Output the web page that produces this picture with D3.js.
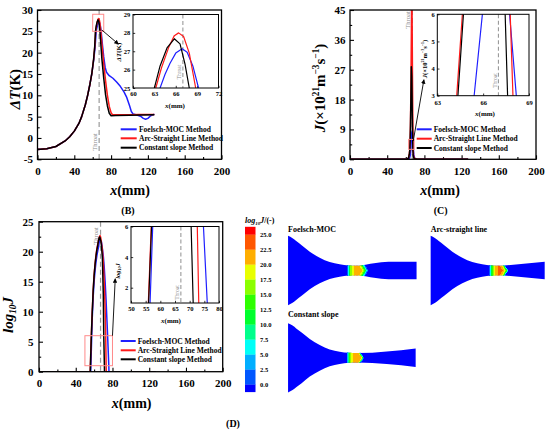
<!DOCTYPE html>
<html lang="en">
<head>
<meta charset="UTF-8">
<title>Nozzle nucleation comparison</title>
<script src="https://d3js.org/d3.v7.min.js"></script>
<style>
  body { margin: 0; background: #fff; }
  svg { display: block; background: #fff; }
</style>
</head>
<body>
<svg width="550" height="432"></svg>
<script>
// ---------------- data ----------------
const methods = ["Foelsch-MOC Method", "Arc-Straight Line Method", "Constant slope Method"];
const methodColors = ["#1f1fff", "#ff1a1a", "#000000"];
const throatX = 67;

// (B) temperature difference dT (K) vs x (mm)
const dtFoelsch = [[0,-2.7],[10,-2.55],[20,-2.0],[30,-0.7],[35,0.3],[40,1.6],[45,3.4],[48,5.0],[52,7.8],[54.5,10],[57,12.6],[59,15],[61,18.1],[62.5,21],[63.8,25],[64.5,25.75],[65.2,26.35],[66,26.9],[66.9,27.14],[67.6,26.95],[68.4,26.2],[69.2,25],[70.5,22],[72,19],[73.5,16.6],[75,15.4],[78,14.6],[82,14.0],[86,13.1],[90,12.1],[94,10.8],[97,9.5],[100,7.6],[102,6.2],[104,5.6],[108,5.4],[112,5.1],[115,4.6],[117.5,4.4],[120,4.6],[123,5.2],[127,5.6]];
const dtArc = [[0,-2.7],[10,-2.55],[20,-2.0],[30,-0.7],[35,0.3],[40,1.6],[45,3.4],[48,5.0],[52,7.8],[54.5,10],[57,12.6],[59,15],[61,18.4],[62.3,21.5],[63.2,25],[64,26.1],[65,27.2],[65.8,27.85],[66.4,28.0],[67.1,27.8],[67.9,26.9],[68.8,25],[70,22.1],[72,17.4],[74,13.4],[76,10],[78,7.4],[80,5.9],[81.5,5.45],[90,5.45],[100,5.45],[110,5.5],[127,5.5]];
const dtConst = [[0,-2.7],[10,-2.55],[20,-2.0],[30,-0.7],[35,0.3],[40,1.6],[45,3.4],[48,5.0],[52,7.8],[54.5,10],[57,12.6],[59,15],[61,18.5],[62.2,21.5],[63,25],[63.8,26.2],[64.8,27.2],[65.8,27.68],[66.6,27.4],[67.3,26.3],[67.9,25],[69,21.5],[70,18.5],[72,14],[74,10.1],[76,7.5],[78,5.8],[80,5.2],[85,5.25],[100,5.3],[127,5.45]];

// (C) nucleation rate J (x10^21 m^-3 s^-1) vs x (mm)
const jFoelsch = [[0,0],[62,0],[64,0.3],[65,1.5],[65.41,3],[65.95,6],[66.5,8.1],[67,8.5],[67.4,7.6],[67.73,6],[68.17,3],[68.6,1.4],[69.5,0.35],[72,0],[127,0]];
const jArc = [[0,0],[61,0],[63,0.4],[63.8,1.7],[64.27,3],[64.64,6],[65,10.5],[65.5,21],[66,38],[66.4,52],[66.8,42],[67.2,24],[67.5,12.5],[67.77,6],[67.95,3],[68.3,1.2],[69,0.3],[72,0],[127,0]];
const jConst = [[0,0],[61,0],[63,0.4],[63.9,1.8],[64.35,3],[64.71,6],[65,9.5],[65.5,18.5],[65.9,27.9],[66.4,25],[66.9,15],[67.2,9.5],[67.44,6],[67.6,3],[68,1],[69,0.2],[72,0],[127,0]];

// (D) log10 J vs x (mm)
const lgFoelsch = [[0,0],[56.3,0],[56.5,1],[57.4,6],[58,9],[59,12.5],[60,15],[61,16.8],[62,18.2],[63,19.3],[64,20.2],[65,20.9],[65.41,21.48],[65.95,21.78],[66.5,21.9],[67,21.93],[67.73,21.78],[68.17,21.48],[69,20.5],[70,19.3],[71,17.5],[72,15],[73,12],[74,8.5],[74.7,6],[76,1],[76.2,0],[127,0]];
const lgArc = [[0,0],[55.7,0],[55.9,1],[56.9,6],[58,10.2],[59,13.7],[60,16.2],[61,18],[62,19.4],[63,20.5],[64,21.3],[64.27,21.48],[64.64,21.78],[65.5,22.4],[66.4,22.7],[67,22.5],[67.77,21.78],[67.95,21.48],[69,20.3],[70,18.3],[71,15],[72,10.5],[72.6,6],[73.1,1],[73.25,0],[127,0]];
const lgConst = [[0,0],[55.8,0],[56,1],[57,6],[58,10],[59,13.5],[60,16],[61,17.8],[62,19.2],[63,20.3],[64,21.1],[64.35,21.48],[64.71,21.78],[65.3,22.2],[65.9,22.45],[66.5,22.3],[67,21.9],[67.44,21.78],[67.6,21.48],[68,21],[69,19],[70,13],[70.5,6],[71.2,1],[71.3,0],[127,0]];

// nozzle wall profiles: [x (mm), half height (mm)]
const convergent = [[-9,38.3],[-4,35.6],[0,32.5],[6,28],[15,20.8],[26,14.2],[37,9.3],[48,6.8],[58,5.6],[66,5.2]];
const divFoelsch = [[72,5.5],[78,6.6],[86,8.0],[94,9.0],[102,9.6],[110,9.7],[133,9.7]];
const divArc = [[69,5.25],[72,5.5],[117,9.6]];
const divConst = [[68,5.2],[132,10.2]];

// colour bar
const cbTicks = [0, 2.5, 5, 7.5, 10, 12.5, 15, 17.5, 20, 22.5, 25];
const cbColors = ["#0000ff","#0057ff","#00aeff","#00fff7","#00ff8b","#00ff2e","#2eff00","#8bff00","#e8ff00","#ffae00","#ff5700","#ff0000"];

// ---------------- drawing ----------------
const svg = d3.select("svg");
const serif = '"Liberation Serif","Times New Roman",serif';
let clipN = 0;

svg.append("defs").append("marker")
  .attr("id", "arrow").attr("viewBox", "0 0 10 10").attr("refX", 9).attr("refY", 5)
  .attr("markerWidth", 5).attr("markerHeight", 5).attr("orient", "auto")
  .append("path").attr("d", "M0,0L10,5L0,10Z").attr("fill", "#000");

// text made of parts: {t, i (italic), s: "sup"|"sub"}
function richText(g, x, y, parts, fs, opt = {}) {
  const t = g.append("text")
    .attr("font-family", serif).attr("font-size", fs)
    .attr("font-weight", opt.weight || "bold")
    .attr("fill", opt.fill || "#000")
    .attr("text-anchor", opt.anchor || "middle")
    .attr("transform", `translate(${x},${y})` + (opt.rotate ? ` rotate(${opt.rotate})` : ""));
  let shift = 0;
  parts.forEach(p => {
    const target = p.s === "sup" ? -0.38 * fs : p.s === "sub" ? 0.22 * fs : 0;
    t.append("tspan")
      .attr("dy", target - shift)
      .attr("font-size", p.s ? fs * 0.62 : fs)
      .attr("font-style", p.i ? "italic" : "normal")
      .text(p.t);
    shift = target;
  });
  return t;
}

function panel(o) {
  const g = svg.append("g");
  const x = d3.scaleLinear().domain(o.xd).range([o.l, o.r]);
  const y = d3.scaleLinear().domain(o.yd).range([o.b, o.t]);
  const id = "clip" + (++clipN);
  svg.select("defs").append("clipPath").attr("id", id).append("rect")
    .attr("x", o.l).attr("y", o.t).attr("width", o.r - o.l).attr("height", o.b - o.t);
  g.append("rect").attr("x", o.l).attr("y", o.t).attr("width", o.r - o.l).attr("height", o.b - o.t)
    .attr("fill", "#fff");

  const fmt = d => String(d);
  g.append("g").attr("transform", `translate(0,${o.b})`)
    .call(d3.axisBottom(x).tickValues(o.xt).tickSizeInner(-o.tl).tickSizeOuter(0).tickPadding(o.xp).tickFormat(fmt));
  g.append("g").attr("transform", `translate(${o.l},0)`)
    .call(d3.axisLeft(y).tickValues(o.yt).tickSizeInner(-o.tl).tickSizeOuter(0).tickPadding(o.yp).tickFormat(fmt));
  if (o.xm) g.append("g").attr("transform", `translate(0,${o.b})`)
    .call(d3.axisBottom(x).tickValues(o.xm).tickSizeInner(-o.tl * 0.55).tickSizeOuter(0).tickFormat(""));
  if (o.ym) g.append("g").attr("transform", `translate(${o.l},0)`)
    .call(d3.axisLeft(y).tickValues(o.ym).tickSizeInner(-o.tl * 0.55).tickSizeOuter(0).tickFormat(""));
  g.selectAll(".domain").remove();
  g.selectAll("g").attr("font-family", serif).attr("font-size", o.fs).attr("font-weight", "bold");
  g.selectAll(".tick text").attr("fill", "#000");
  g.selectAll(".tick line").attr("stroke", "#000").attr("stroke-width", o.inset ? 0.8 : 1.1);

  // throat marker
  g.append("line").attr("x1", x(throatX)).attr("x2", x(throatX)).attr("y1", o.t).attr("y2", o.b)
    .attr("stroke", "#9a9a9a").attr("stroke-width", o.inset ? 1.1 : 1.2)
    .attr("stroke-dasharray", o.inset ? "4,2.5" : "5,3");
  richText(g, x(throatX) - (o.inset ? 1.6 : 2.5), o.thy, [{ t: "Throat" }], o.inset ? 5.5 : 6.5,
    { rotate: -90, weight: "normal", fill: "#8a8a8a" });

  const line = d3.line().x(d => x(d[0])).y(d => y(d[1]));
  g.append("g").attr("clip-path", `url(#${id})`)
    .selectAll("path").data(o.series).join("path")
    .attr("d", line).attr("fill", "none")
    .attr("stroke", (d, i) => methodColors[i])
    .attr("stroke-width", o.lw).attr("stroke-linejoin", "round");

  g.append("rect").attr("x", o.l).attr("y", o.t).attr("width", o.r - o.l).attr("height", o.b - o.t)
    .attr("fill", "none").attr("stroke", "#000").attr("stroke-width", o.inset ? 1 : 1.3);
  return { g, x, y };
}

function zoomBox(p, xr, yr, from, to) {
  p.g.append("rect")
    .attr("x", p.x(xr[0])).attr("y", p.y(yr[1]))
    .attr("width", p.x(xr[1]) - p.x(xr[0])).attr("height", p.y(yr[0]) - p.y(yr[1]))
    .attr("fill", "none").attr("stroke", "#ff8a8a").attr("stroke-width", 1);
  p.g.append("line")
    .attr("x1", p.x(from[0])).attr("y1", p.y(from[1]))
    .attr("x2", p.x(to[0])).attr("y2", p.y(to[1]))
    .attr("stroke", "#000").attr("stroke-width", 0.9).attr("marker-end", "url(#arrow)");
}

function legend(x1, x2, tx, rows) {
  const g = svg.append("g");
  methods.forEach((m, i) => {
    g.append("line").attr("x1", x1).attr("x2", x2).attr("y1", rows[i]).attr("y2", rows[i])
      .attr("stroke", methodColors[i]).attr("stroke-width", 2);
    g.append("text").attr("x", tx).attr("y", rows[i]).attr("dy", "0.35em")
      .attr("font-family", serif).attr("font-size", 7.5).attr("font-weight", "bold").text(m);
  });
}

const xmm = [{ t: "x", i: true }, { t: "(mm)" }];
const dTlab = [{ t: "\u0394T", i: true }, { t: "(K)" }];
const Jlab = [{ t: "J", i: true }, { t: "(\u00d710" }, { t: "21", s: "sup" }, { t: "m" }, { t: "\u22123", s: "sup" }, { t: "s" }, { t: "\u22121", s: "sup" }, { t: ")" }];
const lgJlab = [{ t: "log", i: true }, { t: "10", s: "sub", i: true }, { t: "J", i: true }];

// ---- panel B ----
const pB = panel({ l: 37.5, r: 221.5, t: 10, b: 159.3, xd: [0, 200], yd: [-5, 30],
  xt: [0, 40, 80, 120, 160, 200], xm: [20, 60, 100, 140, 180],
  yt: [-5, 0, 5, 10, 15, 20, 25, 30], ym: [-2.5, 2.5, 7.5, 12.5, 17.5, 22.5, 27.5],
  fs: 11, tl: 4, xp: 8, yp: 4.5, lw: 1.5, thy: 142, series: [dtFoelsch, dtArc, dtConst] });
zoomBox(pB, [60, 72], [25, 29], [70, 25.3], [88, 22]);
panel({ l: 133, r: 218.5, t: 14.5, b: 88, xd: [60, 72], yd: [25, 29], inset: true,
  xt: [60, 63, 66, 69, 72], yt: [25, 26, 27, 28, 29],
  fs: 6.5, tl: 2.2, xp: 3.6, yp: 2.8, lw: 1.2, thy: 72, series: [dtFoelsch, dtArc, dtConst] });
richText(svg, 175, 107.5, xmm, 7);
richText(svg, 121, 52, dTlab, 7, { rotate: -90 });
legend(120.7, 136.7, 139, [129.3, 138.3, 147.7]);
richText(svg, 130, 195, xmm, 14);
richText(svg, 19.5, 89, dTlab, 15, { rotate: -90 });
richText(svg, 128, 214, [{ t: "(B)" }], 10);

// ---- panel C ----
const pC = panel({ l: 350, r: 536, t: 10, b: 159.3, xd: [0, 200], yd: [0, 45],
  xt: [0, 40, 80, 120, 160, 200], xm: [20, 60, 100, 140, 180],
  yt: [0, 9, 18, 27, 36, 45], ym: [4.5, 13.5, 22.5, 31.5, 40.5],
  fs: 11, tl: 4, xp: 8, yp: 4.5, lw: 1.5, thy: 20, series: [jFoelsch, jArc, jConst] });
zoomBox(pC, [63, 69], [3, 6], [68, 5.5], [79.5, 24]);
panel({ l: 437.3, r: 529, t: 14.3, b: 95.7, xd: [63, 69], yd: [3, 6], inset: true,
  xt: [63, 66, 69], yt: [3, 4, 5, 6],
  fs: 6.5, tl: 2.2, xp: 4.5, yp: 2.6, lw: 1.2, thy: 80.5, series: [jFoelsch, jArc, jConst] });
richText(svg, 485, 116, xmm, 7);
richText(svg, 426.5, 59, Jlab, 6.5, { rotate: -90 });
legend(416.7, 431.7, 433.7, [129.3, 138.7, 148]);
richText(svg, 440, 195, xmm, 14);
richText(svg, 325, 88, Jlab, 15, { rotate: -90 });
richText(svg, 440.7, 214, [{ t: "(C)" }], 10);

// ---- panel D ----
const pD = panel({ l: 39, r: 222.7, t: 221.7, b: 371.7, xd: [0, 200], yd: [0, 25],
  xt: [0, 40, 80, 120, 160, 200], xm: [20, 60, 100, 140, 180],
  yt: [0, 5, 10, 15, 20, 25], ym: [2.5, 7.5, 12.5, 17.5, 22.5],
  fs: 11, tl: 4, xp: 7.5, yp: 5.5, lw: 1.5, thy: 236, series: [lgFoelsch, lgArc, lgConst] });
zoomBox(pD, [50, 80], [1, 6], [80, 6], [83, 15.5]);
panel({ l: 131, r: 219, t: 226.5, b: 303, xd: [50, 80], yd: [1, 6], inset: true,
  xt: [50, 55, 60, 65, 70, 75, 80], yt: [2, 4, 6],
  fs: 6.5, tl: 2.2, xp: 3.6, yp: 2.8, lw: 1.2, thy: 292.5, series: [lgFoelsch, lgArc, lgConst] });
richText(svg, 171, 323, xmm, 7);
richText(svg, 120, 271, lgJlab, 6.5, { rotate: -90 });
legend(120.7, 135.7, 137.7, [341, 350.3, 359.3]);
richText(svg, 131.7, 408, xmm, 14);
richText(svg, 13, 315, lgJlab, 15, { rotate: -90 });
richText(svg, 233, 427, [{ t: "(D)" }], 10);

// ---- colour bar ----
const cbY = d3.scaleLinear().domain([0, 25]).range([384.3, 234.3]);
const cbStep = cbTicks[1] - cbTicks[0];
const colorOf = d3.scaleThreshold().domain(cbTicks).range(cbColors);
const cbBands = cbColors.map((c, i) => ({
  lo: i === 0 ? cbTicks[0] - cbStep / 2 : cbTicks[i - 1],
  hi: i === cbTicks.length ? cbTicks[cbTicks.length - 1] + cbStep / 2 : cbTicks[i],
  c
}));
const cb = svg.append("g");
cb.selectAll("rect").data(cbBands).join("rect")
  .attr("x", 245).attr("width", 10.5)
  .attr("y", d => cbY(d.hi)).attr("height", d => cbY(d.lo) - cbY(d.hi) + 0.3)
  .attr("fill", d => d.c);
cb.selectAll("text").data(cbTicks).join("text")
  .attr("x", 260).attr("y", d => cbY(d)).attr("dy", "0.35em")
  .attr("font-family", serif).attr("font-size", 6.5).attr("font-weight", "bold")
  .text(d3.format(".1f"));
richText(svg, 245, 223, [{ t: "log", i: true }, { t: "10", s: "sub", i: true }, { t: "J", i: true }, { t: "/(-)" }], 8, { anchor: "start" });

// ---- nozzle contours ----
const noz = d3.scaleLinear().domain([0, 1]).range([0, 0.905]);  // mm -> px
function valueAt(series, xv) {
  const i = d3.bisector(d => d[0]).left(series, xv);
  if (i <= 0) return series[0][1];
  if (i >= series.length) return series[series.length - 1][1];
  const a = series[i - 1], b = series[i];
  return a[1] + (xv - a[0]) / (b[0] - a[0]) * (b[1] - a[1]);
}
function nozzle(cx, cy, div, lg, label, ly) {
  const prof = convergent.concat(div);
  const g = svg.append("g").attr("transform", `translate(${cx},${cy})`);
  const area = d3.area().x(d => noz(d[0])).y0(d => noz(d[1])).y1(d => -noz(d[1])).curve(d3.curveMonotoneX);
  const id = "clip" + (++clipN);
  svg.select("defs").append("clipPath").attr("id", id).append("path").attr("d", area(prof));
  g.append("path").attr("d", area(prof)).attr("fill", "#0000ff");
  const peakX = d3.greatest(lg, d => d[1])[0];
  const cells = [];
  for (let xv = 50; xv <= 82; xv += 0.3) {
    for (let yv = -7; yv < 7; yv += 0.5) {
      const ym = yv + 0.25;
      let xe = xv + 0.15;
      if (xe > peakX) xe = Math.max(peakX, xe - 3.5 * Math.max(0, 1 - Math.abs(ym) / 5.5));
      const v = valueAt(lg, xe);
      if (v > 0.05) cells.push({ xv, yv, c: colorOf(v) });
    }
  }
  g.append("g").attr("clip-path", `url(#${id})`).attr("shape-rendering", "crispEdges")
    .selectAll("rect").data(cells).join("rect")
    .attr("x", d => noz(d.xv)).attr("y", d => noz(d.yv))
    .attr("width", noz(0.3) + 0.15).attr("height", noz(0.5) + 0.15)
    .attr("fill", d => d.c);
  svg.append("text").attr("x", cx + noz(-9)).attr("y", ly)
    .attr("font-family", serif).attr("font-size", 8).attr("font-weight", "bold").text(label);
}
nozzle(296.2, 270.5, divFoelsch, lgFoelsch, "Foelsch-MOC", 232);
nozzle(438.8, 270.5, divArc, lgArc, "Arc-straight line", 232);
nozzle(296.2, 357.8, divConst, lgConst, "Constant slope", 317);
</script>
</body>
</html>
